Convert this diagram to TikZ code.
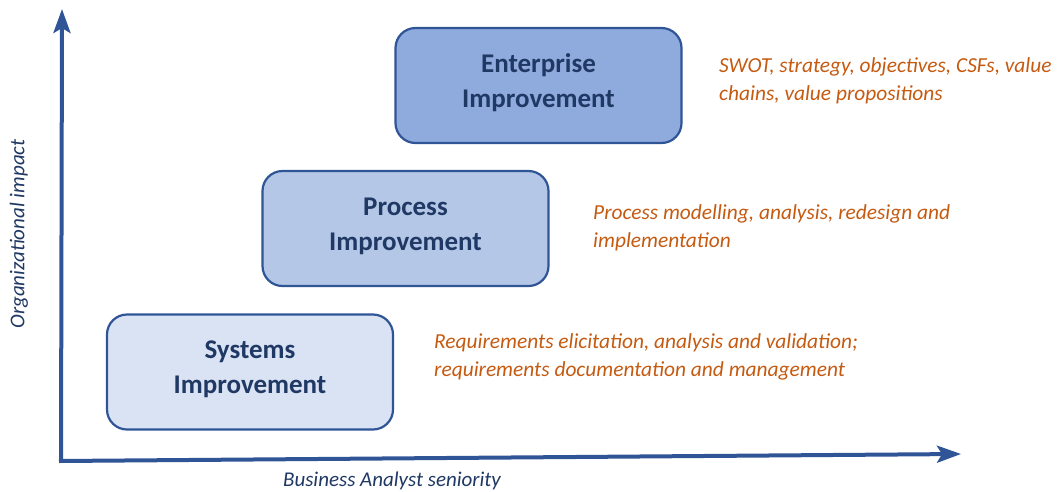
\documentclass[tikz,border=0pt]{standalone}
\usepackage{fontspec}
\setmainfont{Carlito}
\usetikzlibrary{arrows.meta}
\definecolor{axisblue}{HTML}{2F5597}
\definecolor{navy}{HTML}{1F3864}
\definecolor{orng}{HTML}{C55A11}
\definecolor{fillA}{HTML}{DAE3F3}
\definecolor{fillB}{HTML}{B4C7E7}
\definecolor{fillC}{HTML}{8FAADC}
\tikzset{
  levelbox/.style={draw=axisblue, line width=2.2pt, rounded corners=20pt, minimum width=286pt, minimum height=115pt, inner sep=0pt},
  boxtext/.style={align=center, font=\fontsize{27}{35}\selectfont\bfseries, text=navy, inner sep=0pt},
  note/.style={anchor=west, align=left, font=\fontsize{21.4}{28}\selectfont\itshape, text=orng, inner sep=0pt},
  axis/.style={draw=axisblue, line width=4pt, -{Stealth[length=24pt, width=17pt, inset=5pt]}},
  axislabel/.style={font=\fontsize{21}{24}\selectfont\itshape, text=navy, inner sep=0pt}
}
\begin{document}
\begin{tikzpicture}[x=1pt, y=-1pt]
\useasboundingbox (0,0) rectangle (1058,491);
\coordinate (origin) at (61,461);
\coordinate (ytip) at (62,9);
\coordinate (xstart) at (59,461);
\coordinate (xtip) at (961,454);
\draw[axis] (origin) -- (ytip);
\draw[axis] (xstart) -- (xtip);
\node[levelbox, fill=fillA] (sys) at (250,372) {};
\node[levelbox, fill=fillB] (proc) at (405.5,228.5) {};
\node[levelbox, fill=fillC] (ent) at (538.5,85.5) {};
\node[boxtext] (syst) at (250,369) {Systems\\Improvement};
\node[boxtext] (proct) at (405.5,226) {Process\\Improvement};
\node[boxtext] (entt) at (538.5,83) {Enterprise\\Improvement};
\node[note] (n3) at (719,81) {SWOT, strategy, objectives, CSFs, value\\chains, value propositions};
\node[note] (n2) at (593,228) {Process modelling, analysis, redesign and\\implementation};
\node[note] (n1) at (434,357) {Requirements elicitation, analysis and validation;\\requirements documentation and management};
\node[axislabel] (xl) at (392,481) {Business Analyst seniority};
\node[axislabel, rotate=90] (yl) at (19,234) {Organizational impact};
\end{tikzpicture}
\end{document}
